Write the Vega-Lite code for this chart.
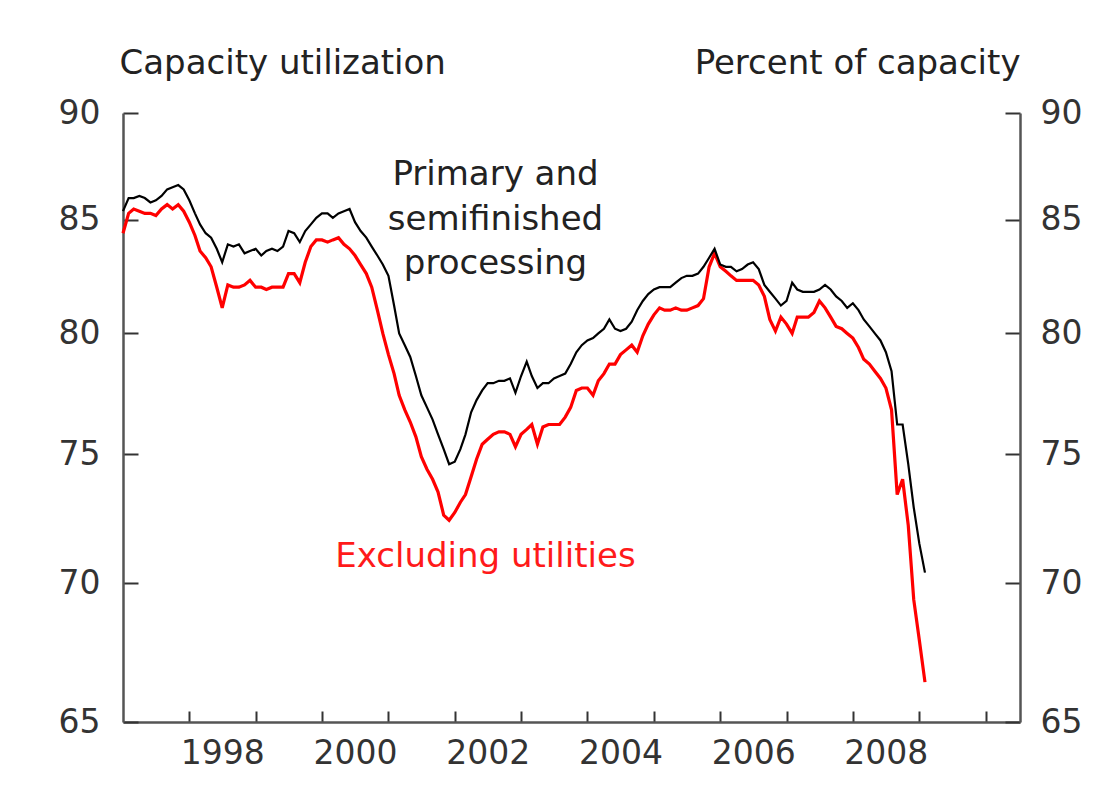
{
  "$schema": "https://vega.github.io/schema/vega-lite/v6.json",
  "width": 897,
  "height": 609,
  "autosize": "none",
  "padding": {"left": 123, "top": 113, "right": 93, "bottom": 73},
  "background": "white",
  "config": {
    "view": {"stroke": null},
    "axis": {
      "grid": false,
      "labelFont": "DejaVu Sans",
      "labelFontSize": 33,
      "labelColor": "#333",
      "titleFont": "DejaVu Sans",
      "titleFontSize": 34,
      "titleFontWeight": "normal",
      "titleColor": "#222",
      "domainColor": "#555",
      "domainWidth": 2.5,
      "tickColor": "#333",
      "tickWidth": 2
    }
  },
  "datasets": {
    "cu": [
      {"date":"1997-01-01","primary":85.4,"excl":84.4},
      {"date":"1997-02-01","primary":86.0,"excl":85.3},
      {"date":"1997-03-01","primary":86.0,"excl":85.5},
      {"date":"1997-04-01","primary":86.1,"excl":85.4},
      {"date":"1997-05-01","primary":86.0,"excl":85.3},
      {"date":"1997-06-01","primary":85.8,"excl":85.3},
      {"date":"1997-07-01","primary":85.9,"excl":85.2},
      {"date":"1997-08-01","primary":86.1,"excl":85.5},
      {"date":"1997-09-01","primary":86.4,"excl":85.7},
      {"date":"1997-10-01","primary":86.5,"excl":85.5},
      {"date":"1997-11-01","primary":86.6,"excl":85.7},
      {"date":"1997-12-01","primary":86.4,"excl":85.4},
      {"date":"1998-01-01","primary":85.9,"excl":84.9},
      {"date":"1998-02-01","primary":85.3,"excl":84.3},
      {"date":"1998-03-01","primary":84.8,"excl":83.6},
      {"date":"1998-04-01","primary":84.4,"excl":83.3},
      {"date":"1998-05-01","primary":84.2,"excl":82.9},
      {"date":"1998-06-01","primary":83.7,"excl":82.0},
      {"date":"1998-07-01","primary":83.1,"excl":81.1},
      {"date":"1998-08-01","primary":83.9,"excl":82.1},
      {"date":"1998-09-01","primary":83.8,"excl":82.0},
      {"date":"1998-10-01","primary":83.9,"excl":82.0},
      {"date":"1998-11-01","primary":83.5,"excl":82.1},
      {"date":"1998-12-01","primary":83.6,"excl":82.3},
      {"date":"1999-01-01","primary":83.7,"excl":82.0},
      {"date":"1999-02-01","primary":83.4,"excl":82.0},
      {"date":"1999-03-01","primary":83.6,"excl":81.9},
      {"date":"1999-04-01","primary":83.7,"excl":82.0},
      {"date":"1999-05-01","primary":83.6,"excl":82.0},
      {"date":"1999-06-01","primary":83.8,"excl":82.0},
      {"date":"1999-07-01","primary":84.5,"excl":82.6},
      {"date":"1999-08-01","primary":84.4,"excl":82.6},
      {"date":"1999-09-01","primary":84.0,"excl":82.2},
      {"date":"1999-10-01","primary":84.5,"excl":83.1},
      {"date":"1999-11-01","primary":84.8,"excl":83.8},
      {"date":"1999-12-01","primary":85.1,"excl":84.1},
      {"date":"2000-01-01","primary":85.3,"excl":84.1},
      {"date":"2000-02-01","primary":85.3,"excl":84.0},
      {"date":"2000-03-01","primary":85.1,"excl":84.1},
      {"date":"2000-04-01","primary":85.3,"excl":84.2},
      {"date":"2000-05-01","primary":85.4,"excl":83.9},
      {"date":"2000-06-01","primary":85.5,"excl":83.7},
      {"date":"2000-07-01","primary":84.9,"excl":83.4},
      {"date":"2000-08-01","primary":84.5,"excl":83.0},
      {"date":"2000-09-01","primary":84.2,"excl":82.6},
      {"date":"2000-10-01","primary":83.8,"excl":82.0},
      {"date":"2000-11-01","primary":83.4,"excl":81.0},
      {"date":"2000-12-01","primary":83.0,"excl":80.0},
      {"date":"2001-01-01","primary":82.5,"excl":79.1},
      {"date":"2001-02-01","primary":81.2,"excl":78.3},
      {"date":"2001-03-01","primary":80.0,"excl":77.4},
      {"date":"2001-04-01","primary":79.5,"excl":76.8},
      {"date":"2001-05-01","primary":79.0,"excl":76.3},
      {"date":"2001-06-01","primary":78.2,"excl":75.7},
      {"date":"2001-07-01","primary":77.4,"excl":74.9},
      {"date":"2001-08-01","primary":76.9,"excl":74.4},
      {"date":"2001-09-01","primary":76.4,"excl":74.0},
      {"date":"2001-10-01","primary":75.8,"excl":73.5},
      {"date":"2001-11-01","primary":75.2,"excl":72.6},
      {"date":"2001-12-01","primary":74.6,"excl":72.4},
      {"date":"2002-01-01","primary":74.7,"excl":72.7},
      {"date":"2002-02-01","primary":75.2,"excl":73.1},
      {"date":"2002-03-01","primary":75.8,"excl":73.4},
      {"date":"2002-04-01","primary":76.7,"excl":74.1},
      {"date":"2002-05-01","primary":77.2,"excl":74.8},
      {"date":"2002-06-01","primary":77.6,"excl":75.4},
      {"date":"2002-07-01","primary":77.9,"excl":75.6},
      {"date":"2002-08-01","primary":77.9,"excl":75.8},
      {"date":"2002-09-01","primary":78.0,"excl":75.9},
      {"date":"2002-10-01","primary":78.0,"excl":75.9},
      {"date":"2002-11-01","primary":78.1,"excl":75.8},
      {"date":"2002-12-01","primary":77.5,"excl":75.3},
      {"date":"2003-01-01","primary":78.2,"excl":75.8},
      {"date":"2003-02-01","primary":78.8,"excl":76.0},
      {"date":"2003-03-01","primary":78.2,"excl":76.2},
      {"date":"2003-04-01","primary":77.7,"excl":75.4},
      {"date":"2003-05-01","primary":77.9,"excl":76.1},
      {"date":"2003-06-01","primary":77.9,"excl":76.2},
      {"date":"2003-07-01","primary":78.1,"excl":76.2},
      {"date":"2003-08-01","primary":78.2,"excl":76.2},
      {"date":"2003-09-01","primary":78.3,"excl":76.5},
      {"date":"2003-10-01","primary":78.7,"excl":76.9},
      {"date":"2003-11-01","primary":79.2,"excl":77.6},
      {"date":"2003-12-01","primary":79.5,"excl":77.7},
      {"date":"2004-01-01","primary":79.7,"excl":77.7},
      {"date":"2004-02-01","primary":79.8,"excl":77.4},
      {"date":"2004-03-01","primary":80.0,"excl":78.0},
      {"date":"2004-04-01","primary":80.2,"excl":78.3},
      {"date":"2004-05-01","primary":80.6,"excl":78.7},
      {"date":"2004-06-01","primary":80.2,"excl":78.7},
      {"date":"2004-07-01","primary":80.1,"excl":79.1},
      {"date":"2004-08-01","primary":80.2,"excl":79.3},
      {"date":"2004-09-01","primary":80.5,"excl":79.5},
      {"date":"2004-10-01","primary":81.0,"excl":79.2},
      {"date":"2004-11-01","primary":81.4,"excl":79.9},
      {"date":"2004-12-01","primary":81.7,"excl":80.4},
      {"date":"2005-01-01","primary":81.9,"excl":80.8},
      {"date":"2005-02-01","primary":82.0,"excl":81.1},
      {"date":"2005-03-01","primary":82.0,"excl":81.0},
      {"date":"2005-04-01","primary":82.0,"excl":81.0},
      {"date":"2005-05-01","primary":82.2,"excl":81.1},
      {"date":"2005-06-01","primary":82.4,"excl":81.0},
      {"date":"2005-07-01","primary":82.5,"excl":81.0},
      {"date":"2005-08-01","primary":82.5,"excl":81.1},
      {"date":"2005-09-01","primary":82.6,"excl":81.2},
      {"date":"2005-10-01","primary":82.9,"excl":81.5},
      {"date":"2005-11-01","primary":83.3,"excl":82.9},
      {"date":"2005-12-01","primary":83.7,"excl":83.5},
      {"date":"2006-01-01","primary":83.0,"excl":82.9},
      {"date":"2006-02-01","primary":82.9,"excl":82.7},
      {"date":"2006-03-01","primary":82.9,"excl":82.5},
      {"date":"2006-04-01","primary":82.7,"excl":82.3},
      {"date":"2006-05-01","primary":82.8,"excl":82.3},
      {"date":"2006-06-01","primary":83.0,"excl":82.3},
      {"date":"2006-07-01","primary":83.1,"excl":82.3},
      {"date":"2006-08-01","primary":82.8,"excl":82.1},
      {"date":"2006-09-01","primary":82.1,"excl":81.6},
      {"date":"2006-10-01","primary":81.8,"excl":80.6},
      {"date":"2006-11-01","primary":81.5,"excl":80.1},
      {"date":"2006-12-01","primary":81.2,"excl":80.7},
      {"date":"2007-01-01","primary":81.4,"excl":80.4},
      {"date":"2007-02-01","primary":82.2,"excl":80.0},
      {"date":"2007-03-01","primary":81.9,"excl":80.7},
      {"date":"2007-04-01","primary":81.8,"excl":80.7},
      {"date":"2007-05-01","primary":81.8,"excl":80.7},
      {"date":"2007-06-01","primary":81.8,"excl":80.9},
      {"date":"2007-07-01","primary":81.9,"excl":81.4},
      {"date":"2007-08-01","primary":82.1,"excl":81.1},
      {"date":"2007-09-01","primary":81.9,"excl":80.7},
      {"date":"2007-10-01","primary":81.6,"excl":80.3},
      {"date":"2007-11-01","primary":81.4,"excl":80.2},
      {"date":"2007-12-01","primary":81.1,"excl":80.0},
      {"date":"2008-01-01","primary":81.3,"excl":79.8},
      {"date":"2008-02-01","primary":81.0,"excl":79.4},
      {"date":"2008-03-01","primary":80.6,"excl":78.9},
      {"date":"2008-04-01","primary":80.3,"excl":78.7},
      {"date":"2008-05-01","primary":80.0,"excl":78.4},
      {"date":"2008-06-01","primary":79.7,"excl":78.1},
      {"date":"2008-07-01","primary":79.2,"excl":77.7},
      {"date":"2008-08-01","primary":78.4,"excl":76.8},
      {"date":"2008-09-01","primary":76.2,"excl":73.4},
      {"date":"2008-10-01","primary":76.2,"excl":74.0},
      {"date":"2008-11-01","primary":74.6,"excl":72.2},
      {"date":"2008-12-01","primary":72.9,"excl":69.4},
      {"date":"2009-01-01","primary":71.5,"excl":67.9},
      {"date":"2009-02-01","primary":70.4,"excl":66.4}
    ],
    "blackNotes": [
      {"date":"2002-08-13","value":86.6,"label":"Primary and"},
      {"date":"2002-08-13","value":84.55,"label":"semifinished"},
      {"date":"2002-08-13","value":82.6,"label":"processing"}
    ],
    "redNotes": [
      {"date":"2002-06-19","value":70.6,"label":"Excluding utilities"}
    ]
  },
  "layer": [
    {
      "data": {"name": "cu"},
      "mark": {"type": "line", "color": "#ff0000", "strokeWidth": 3.2},
      "encoding": {
        "x": {
          "field": "date", "type": "temporal",
          "scale": {"type": "utc", "domain": [{"year":1997,"month":1,"date":1,"utc":true},{"year":2010,"month":7,"date":9,"utc":true}]},
          "axis": {
            "title": null,
            "orient": "bottom",
            "values": [
              {"year":1998,"month":1,"date":1,"utc":true},{"year":1999,"month":1,"date":1,"utc":true},
              {"year":2000,"month":1,"date":1,"utc":true},{"year":2001,"month":1,"date":1,"utc":true},
              {"year":2002,"month":1,"date":1,"utc":true},{"year":2003,"month":1,"date":1,"utc":true},
              {"year":2004,"month":1,"date":1,"utc":true},{"year":2005,"month":1,"date":1,"utc":true},
              {"year":2006,"month":1,"date":1,"utc":true},{"year":2007,"month":1,"date":1,"utc":true},
              {"year":2008,"month":1,"date":1,"utc":true},{"year":2009,"month":1,"date":1,"utc":true},
              {"year":2010,"month":1,"date":1,"utc":true}
            ],
            "labelExpr": "(utcyear(datum.value) % 2 == 0 && utcyear(datum.value) < 2010) ? '' + utcyear(datum.value) : ''",
            "labelOffset": 33,
            "labelFlush": false,
            "labelOverlap": false,
            "tickSize": -11,
            "labelPadding": 26
          }
        },
        "y": {
          "field": "excl", "type": "quantitative",
          "scale": {"type": "log", "domain": [65, 90], "nice": false, "zero": false},
          "axis": {
            "orient": "left",
            "values": [65, 70, 75, 80, 85, 90],
            "tickSize": -15,
            "labelPadding": 38,
            "title": "Capacity utilization",
            "titleAngle": 0,
            "titleAlign": "left",
            "titleBaseline": "middle",
            "titleX": -4,
            "titleY": -50
          }
        }
      }
    },
    {
      "data": {"name": "cu"},
      "mark": {"type": "line", "color": "#000000", "strokeWidth": 2.2},
      "encoding": {
        "x": {"field": "date", "type": "temporal"},
        "y": {
          "field": "primary", "type": "quantitative",
          "axis": {
            "orient": "right",
            "values": [65, 70, 75, 80, 85, 90],
            "tickSize": -15,
            "labelPadding": 35,
            "title": "Percent of capacity",
            "titleAngle": 0,
            "titleAlign": "right",
            "titleBaseline": "middle",
            "titleX": 0,
            "titleY": -50
          }
        }
      }
    },
    {
      "data": {"name": "blackNotes"},
      "mark": {"type": "text", "font": "DejaVu Sans", "fontSize": 34, "color": "#222", "align": "center", "baseline": "alphabetic"},
      "encoding": {
        "x": {"field": "date", "type": "temporal"},
        "y": {"field": "value", "type": "quantitative", "axis": null},
        "text": {"field": "label"}
      }
    },
    {
      "data": {"name": "redNotes"},
      "mark": {"type": "text", "font": "DejaVu Sans", "fontSize": 34, "color": "#ff1a1a", "align": "center", "baseline": "alphabetic"},
      "encoding": {
        "x": {"field": "date", "type": "temporal"},
        "y": {"field": "value", "type": "quantitative", "axis": null},
        "text": {"field": "label"}
      }
    }
  ],
  "resolve": {"axis": {"y": "independent"}}
}
